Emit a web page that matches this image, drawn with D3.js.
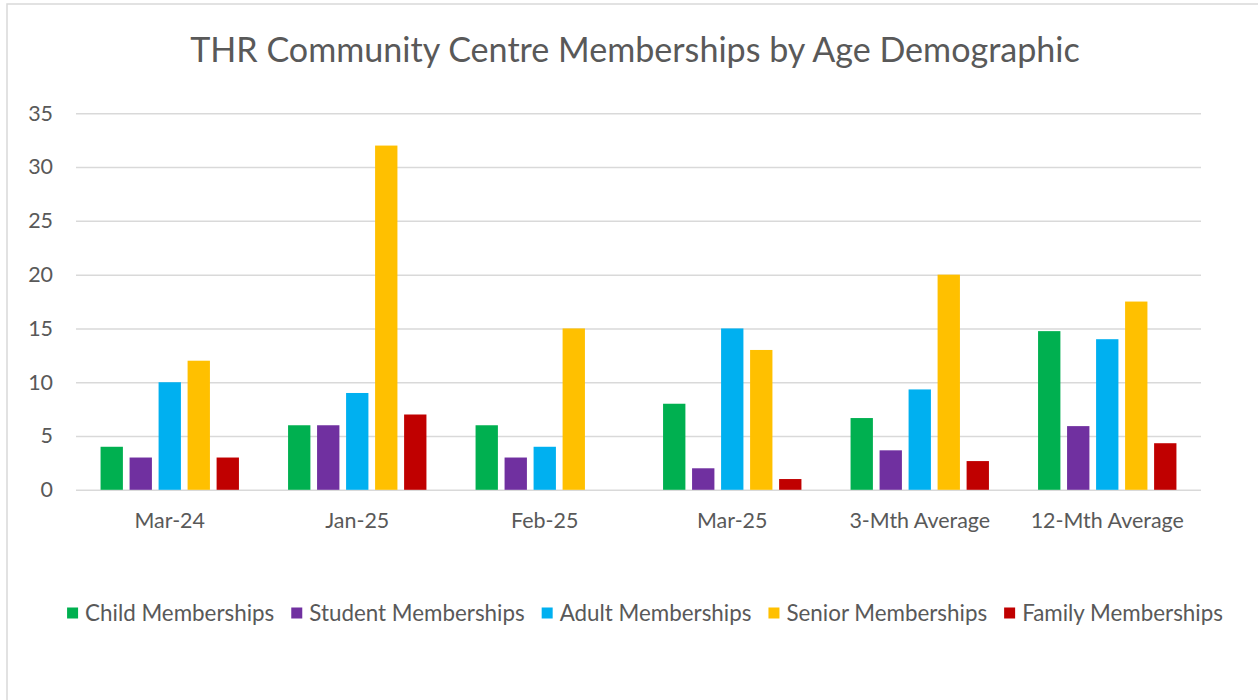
<!DOCTYPE html>
<html><head><meta charset="utf-8">
<script src="https://cdn.jsdelivr.net/npm/d3@7"></script>
<style>body{margin:0;background:#fff;overflow:hidden}</style>
</head><body>
<svg id="c" width="1258" height="700"></svg>
<script>
const categories = ["Mar-24","Jan-25","Feb-25","Mar-25","3-Mth Average","12-Mth Average"];
const seriesNames = ["Child Memberships","Student Memberships","Adult Memberships","Senior Memberships","Family Memberships"];
const childValues = [4,6,6,8,6.67,14.75];
const studentValues = [3,6,3,2,3.67,5.92];
const adultValues = [10,9,4,15,9.33,14];
const seniorValues = [12,32,15,13,20,17.5];
const familyValues = [3,7,0,1,2.67,4.33];
const yTicks = [0,5,10,15,20,25,30,35];
const seriesColors = ["#00B050","#7030A0","#00B0F0","#FFC000","#C00000"];
const titleText = "THR Community Centre Memberships by Age Demographic";

const seriesValues = [childValues, studentValues, adultValues, seniorValues, familyValues];
const FONT = "Lato, 'Liberation Sans', sans-serif";
const TXT = "#595959";
const GRID = "#d9d9d9";

const svg = d3.select("#c");
// chart frame
svg.append("rect").attr("x",7).attr("y",4).attr("width",1400).attr("height",900)
  .attr("fill","#fff").attr("stroke",GRID).attr("stroke-width",1.5);

const plotL = 76, plotR = 1201, plotT = 113.3, plotB = 489.8;

function fit(sel, target){
  const w = sel.node().getComputedTextLength();
  const fs = parseFloat(sel.attr("font-size"));
  return fs * target / w;
}

// title
const title = svg.append("text").attr("x",635).attr("y",62).attr("text-anchor","middle")
  .attr("font-family",FONT).attr("font-size",30).attr("fill",TXT).text(titleText);
title.attr("font-size", fit(title, 890));

const x0 = d3.scaleBand().domain(categories).range([plotL,plotR]).paddingInner(0.262).paddingOuter(0.131);
const x1 = d3.scaleBand().domain(seriesNames).range([0,x0.bandwidth()]).paddingInner(0.23).paddingOuter(0);
const y = d3.scaleLinear().domain([0,35]).range([plotB,plotT]);

// axis font size from x label widths
const probe = svg.append("text").attr("font-family",FONT).attr("font-size",20).text("Mar-24");
const axisFS = fit(probe, 70.5);
probe.remove();

const gy = svg.append("g").attr("transform",`translate(${plotL},0)`)
  .call(d3.axisLeft(y).tickValues(yTicks).tickSize(-(plotR-plotL)).tickPadding(23));
gy.select(".domain").remove();
gy.selectAll(".tick line").attr("stroke",GRID).attr("stroke-width",1.5);
gy.selectAll(".tick text").attr("font-family",FONT).attr("font-size",axisFS).attr("fill",TXT);

// bars
const groups = svg.append("g").selectAll("g").data(categories).join("g")
  .attr("transform", c => `translate(${x0(c)},0)`);
groups.selectAll("rect").data((c,i) => seriesNames.map((s,j) => ({s, v: seriesValues[j][i], j})))
  .join("rect")
  .attr("x", d => x1(d.s)).attr("width", x1.bandwidth())
  .attr("y", d => y(d.v)).attr("height", d => y(0) - y(d.v))
  .attr("fill", d => seriesColors[d.j]);

// x axis labels
const gx = svg.append("g").attr("transform",`translate(0,${plotB})`)
  .call(d3.axisBottom(x0).tickSize(0).tickPadding(0));
gx.select(".domain").remove();
gx.selectAll(".tick text").attr("y",31).attr("dy","0.35em")
  .attr("font-family",FONT).attr("font-size",axisFS).attr("fill",TXT);

// legend
const probe2 = svg.append("text").attr("font-family",FONT).attr("font-size",20).text("Family Memberships");
const legFS = fit(probe2, 201);
probe2.remove();
const legY = 613, sq = 11, gapT = 7, gapI = 17;
const leg = svg.append("g");
const items = leg.selectAll("g").data(seriesNames).join("g");
items.append("rect").attr("width",sq).attr("height",sq).attr("y",legY - sq/2)
  .attr("fill",(d,i)=>seriesColors[i]);
items.append("text").attr("x",sq+gapT).attr("y",legY).attr("dy","0.35em")
  .attr("font-family",FONT).attr("font-size",legFS).attr("fill",TXT).text(d=>d);
let widths = [];
items.each(function(){ widths.push(sq+gapT+d3.select(this).select("text").node().getComputedTextLength()); });
const total = d3.sum(widths) + gapI*(widths.length-1);
let cx = 645 - total/2;
items.each(function(d,i){ d3.select(this).attr("transform",`translate(${cx},0)`); cx += widths[i] + gapI; });
</script>
</body></html>
